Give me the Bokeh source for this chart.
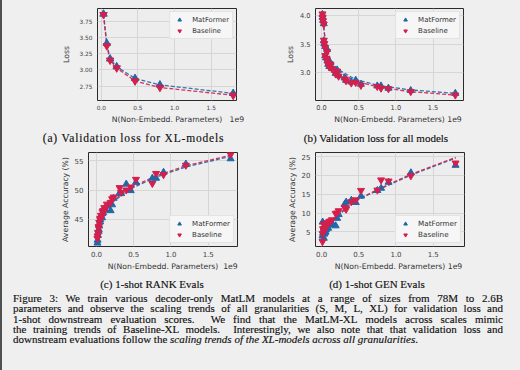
from bokeh.plotting import figure
from bokeh.models import (FixedTicker, PrintfTickFormatter, Range1d, Legend, LegendItem,
                          Div, GlobalInlineStyleSheet)
from bokeh.layouts import column, row
from bokeh.embed import file_html
from bokeh.resources import INLINE

# ---------------- data (non-embedding parameters in units of 1e9) ----------------
# 7 model sizes x 4 granularities (S, M, L, XL)
params = [0.013, 0.015, 0.020, 0.030,
          0.031, 0.037, 0.050, 0.075,
          0.050, 0.060, 0.080, 0.120,
          0.090, 0.105, 0.140, 0.210,
          0.190, 0.230, 0.310, 0.460,
          0.330, 0.400, 0.530, 0.800,
          0.750, 0.900, 1.200, 1.800]

loss_matformer = [4.02, 3.97, 3.92, 3.86,
                  3.56, 3.51, 3.46, 3.41,
                  3.30, 3.26, 3.21, 3.17,
                  3.15, 3.11, 3.08, 3.05,
                  2.99, 2.95, 2.91, 2.87,
                  2.87, 2.84, 2.80, 2.77,
                  2.77, 2.73, 2.69, 2.64]
loss_baseline = [4.03, 3.97, 3.91, 3.85,
                 3.57, 3.51, 3.44, 3.37,
                 3.30, 3.25, 3.20, 3.15,
                 3.14, 3.10, 3.07, 3.03,
                 2.98, 2.94, 2.89, 2.83,
                 2.86, 2.82, 2.78, 2.73,
                 2.76, 2.72, 2.67, 2.61]

rank_matformer = [41.0, 41.5, 42.3, 43.0,
                  43.3, 43.9, 44.6, 45.3,
                  45.0, 45.6, 46.0, 46.6,
                  46.2, 46.8, 47.3, 47.5,
                  46.5, 48.6, 49.5, 49.9,
                  49.4, 51.0, 51.3, 52.0,
                  52.0, 53.0, 54.4, 55.3]
rank_baseline = [41.8, 42.2, 42.8, 43.6,
                 43.8, 44.5, 45.0, 45.6,
                 45.2, 45.7, 46.3, 46.8,
                 46.5, 47.0, 47.6, 48.5,
                 47.9, 48.8, 50.4, 50.5,
                 49.6, 50.0, 51.8, 52.8,
                 51.1, 52.6, 54.2, 56.0]

gen_matformer = [3.9, 7.6, 4.6, 5.6,
                 3.3, 4.4, 5.0, 6.0,
                 4.8, 5.5, 6.1, 6.8,
                 6.0, 7.0, 7.4, 8.6,
                 6.6, 9.6, 12.3, 12.8,
                 12.9, 13.4, 14.5, 16.6,
                 16.0, 18.2, 20.7, 22.7]
gen_baseline = [2.4, 4.5, 5.8, 7.0,
                5.2, 5.8, 6.5, 7.3,
                6.0, 6.6, 7.4, 7.8,
                7.2, 7.8, 8.2, 10.0,
                9.9, 10.6, 11.5, 13.5,
                11.0, 13.0, 16.0, 18.8,
                16.1, 18.5, 19.9, 23.3]

# fitted scaling-trend curves
fit_params = [0.013, 0.030, 0.050, 0.075, 0.120, 0.210, 0.460, 0.800, 1.200, 1.800]
fit_loss_matformer = [4.02, 3.80, 3.58, 3.42, 3.24, 3.07, 2.88, 2.77, 2.70, 2.64]
fit_loss_baseline = [4.02, 3.78, 3.55, 3.39, 3.21, 3.04, 2.85, 2.74, 2.67, 2.61]
fit_rank_matformer = [41.3, 43.3, 44.6, 45.4, 46.5, 47.9, 50.2, 52.2, 53.9, 55.7]
fit_rank_baseline = [41.5, 43.5, 44.8, 45.6, 46.7, 48.1, 50.4, 52.4, 54.1, 55.9]
fit_gen_matformer = [4.2, 5.1, 5.8, 6.5, 7.5, 9.2, 13.2, 16.5, 20.1, 24.6]
fit_gen_baseline = [4.4, 5.3, 6.0, 6.7, 7.7, 9.4, 13.4, 16.7, 20.3, 24.8]

x_ticks = [0.0, 0.5, 1.0, 1.5]
series_names = ["MatFormer", "Baseline"]
x_label = "N(Non-Embedd. Parameters)"
x_offset_text = "1e9"

BLUE = "#1f68aa"
RED = "#d41f4c"
FONT = "DejaVu Sans"
NB = "\u00a0"
BG = "#efefef"


def make_fig(xr, yr, yticks, yfmt, ylabel, fw, fh, bl, br, bt, bb, tick_fs, ylab_standoff, gap):
    p = figure(width=bl + fw + br, height=bt + fh + bb,
               x_range=Range1d(*xr), y_range=Range1d(*yr),
               output_backend="svg", toolbar_location=None,
               min_border_left=bl, min_border_right=br, min_border_top=bt, min_border_bottom=bb)
    p.background_fill_color = "#ededed"
    p.border_fill_color = BG
    p.outline_line_color = "#2a2a2a"
    p.outline_line_width = 1
    p.grid.grid_line_color = "#d6d6d6"
    p.grid.grid_line_width = 1
    p.xaxis.ticker = FixedTicker(ticks=x_ticks)
    p.xaxis.formatter = PrintfTickFormatter(format="%.1f")
    p.yaxis.ticker = FixedTicker(ticks=yticks)
    p.yaxis.formatter = PrintfTickFormatter(format=yfmt)
    for ax in (p.xaxis, p.yaxis):
        ax.axis_line_color = None
        ax.major_tick_line_color = None
        ax.minor_tick_line_color = None
        ax.major_tick_out = 0
        ax.major_tick_in = 0
        ax.major_label_text_font = FONT
        ax.major_label_text_font_size = f"{tick_fs}px"
        ax.major_label_text_color = "#444444"
        ax.axis_label_text_font = FONT
        ax.axis_label_text_font_style = "normal"
        ax.axis_label_text_color = "#333333"
        ax.axis_label_text_font_size = "7.7px"
    p.xaxis.major_label_standoff = 4
    p.yaxis.major_label_standoff = 5
    # the "1e9" offset text sits on the axis-label line, to the right of it;
    # symmetric non-breaking padding keeps the label itself centred on the frame
    p.xaxis.axis_label = NB * (gap + 6) + x_label + NB * gap + x_offset_text
    p.xaxis.axis_label_standoff = 2
    p.yaxis.axis_label = ylabel
    p.yaxis.axis_label_standoff = ylab_standoff
    return p


def add_series(p, xs, ym, yb, fx, fym, fyb, loc, leg_fs, msize):
    p.line(fx, fym, line_color=BLUE, line_width=1.3, line_dash="4 2", line_alpha=0.9)
    p.line(fx, fyb, line_color=RED, line_width=1.3, line_dash="4 2", line_alpha=0.9)
    rm = p.scatter(xs, ym, marker="triangle", size=msize, fill_color=BLUE, line_color=BLUE)
    rb = p.scatter(xs, yb, marker="inverted_triangle", size=msize, fill_color=RED, line_color=RED)
    leg = Legend(items=[LegendItem(label=series_names[0], renderers=[rm]),
                        LegendItem(label=series_names[1], renderers=[rb])],
                 location=loc)
    leg.label_text_font = FONT
    leg.label_text_font_size = f"{leg_fs}px"
    leg.label_text_color = "#333333"
    leg.glyph_width = 12
    leg.glyph_height = 9
    leg.label_height = 9
    leg.label_standoff = 7
    leg.spacing = 2
    leg.padding = 3
    leg.margin = 3
    leg.border_line_color = "#cfcfcf"
    leg.background_fill_color = "#f6f6f6"
    leg.background_fill_alpha = 1.0
    p.add_layout(leg)


# (a) validation loss XL models  -- frame x 97..236, y 8..100
pa = make_fig((-0.052, 1.845), (2.53, 3.945), [2.75, 3.0, 3.25, 3.5, 3.75], "%.2f", "Loss",
              139, 92, 97, 24, 8, 29, 5.8, 6, 3)
add_series(pa, params[3::4], loss_matformer[3::4], loss_baseline[3::4],
           params[3::4], loss_matformer[3::4], loss_baseline[3::4], "top_right", 6.8, 7.5)

# (b) validation loss all models -- frame x 315..463, y 7..101
pb = make_fig((-0.081, 1.91), (2.515, 4.125), [3.0, 3.5, 4.0], "%.1f", "Loss",
              148, 94, 55, 57, 7, 28, 6.6, 2, 1)
add_series(pb, params, loss_matformer, loss_baseline,
           fit_params, fit_loss_matformer, fit_loss_baseline, "top_right", 7, 7)

# (c) 1-shot RANK -- frame x 88..237, y 152..246
pc = make_fig((-0.107, 1.893), (40.42, 56.36), [45, 50, 55], "%d", "Average Accuracy (%)",
              149, 94, 88, 23, 5, 29, 7, 2, 2)
add_series(pc, params, rank_matformer, rank_baseline,
           fit_params, fit_rank_matformer, fit_rank_baseline, "bottom_right", 7, 7)

# (d) 1-shot GEN -- frame x 315..464, y 150..247
pd_ = make_fig((-0.081, 1.92), (1.1, 26.1), [5, 10, 15, 20, 25], "%d", "Average Accuracy (%)",
               149, 97, 55, 56, 3, 28, 7, 2, 1)
add_series(pd_, params, gen_matformer, gen_baseline,
           fit_params, fit_gen_matformer, fit_gen_baseline, "bottom_right", 7.2, 7)

SERIF = ("font-family:'Liberation Serif','Times New Roman',serif;color:#111111;"
         "-webkit-text-stroke:0.15px #111111;")


def sub_caption(text, width, extra=""):
    html = (f"<div style=\"{SERIF}font-size:11px;line-height:18px;text-align:center;"
            f"white-space:nowrap;width:{width}px;{extra}\">{text}</div>")
    return Div(text=html, width=width, height=18, margin=(0, 0, 0, 0))


cap_a = sub_caption("(a) Validation loss for XL-models", 267, "letter-spacing:0.8px;font-size:11.5px;")
cap_b = sub_caption("(b) Validation loss for all models", 218)
cap_c = sub_caption("(c) 1-shot RANK Evals", 304)
cap_d = sub_caption("(d) 1-shot GEN Evals", 146)

caption_lines = [
    "Figure 3: We train various decoder-only MatLM models at a range of sizes from 78M to 2.6B",
    "parameters and observe the scaling trends of all granularities (S, M, L, XL) for validation loss and",
    "1-shot downstream evaluation scores. &nbsp;We find that the MatLM-XL models across scales mimic",
    "the training trends of Baseline-XL models. &nbsp;Interestingly, we also note that that validation loss and",
    "downstream evaluations follow the <i>scaling trends of the XL-models across all granularities</i>.",
]
body = ""
for i, ln in enumerate(caption_lines):
    al = "left" if i == len(caption_lines) - 1 else "justify"
    body += (f"<div style=\"white-space:nowrap;text-align:{al};text-align-last:{al};"
             f"height:10.3px;line-height:10.3px\">{ln}</div>")
main_html = (f"<div style=\"{SERIF}font-size:11px;padding:0 0 0 13px;width:503px\">"
             f"{body}</div>")
main_caption = Div(text=main_html, width=516, height=56, margin=(0, 0, 0, 0))

page_css = ("html, body { background: %s; } "
            "body::after { content: ''; position: fixed; left: 0; top: 0; width: 2px; "
            "height: 100%%; background: #505050; }" % BG)
layout = column(row(pa, pb), row(cap_a, cap_b), row(pc, pd_), row(cap_c, cap_d), main_caption,
                stylesheets=[GlobalInlineStyleSheet(css=page_css)])

open("out.html", "w").write(file_html(layout, INLINE))
